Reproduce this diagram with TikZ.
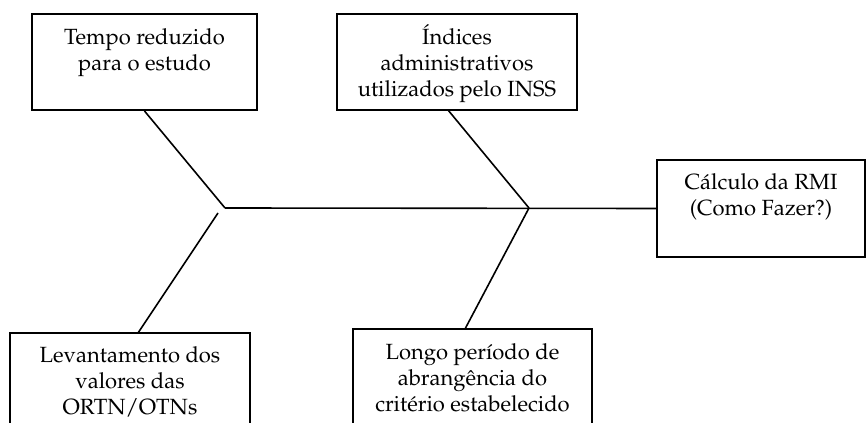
\documentclass[tikz,border=0pt]{standalone}
\usepackage[T1]{fontenc}
\usepackage{mathpazo}
\usetikzlibrary{fit}
\begin{document}
\begin{tikzpicture}[x=0.75pt,y=-0.75pt,
  box/.style={draw, line width=1.5pt, inner sep=0pt},
  txt/.style={align=center, inner sep=0pt, anchor=base, font=\fontsize{16.5}{19.5}\selectfont},
  bone/.style={line width=1.2pt}]
\useasboundingbox (0,0) rectangle (867,423);
\clip (0,0) rectangle (867,423);
% boxes
\node[box, fit={(32,14)(257,110)}] (b1) {};
\node[box, fit={(337,14)(577,110)}] (b2) {};
\node[box, fit={(657,160)(865,257)}] (b3) {};
\node[box, fit={(10,333)(250,450)}] (b4) {};
\node[box, fit={(353,329)(592,450)}] (b5) {};
% texts (anchored at the baseline of their last line)
\node[txt] (t1) at (144.5,71) {Tempo reduzido\\para o estudo};
\node[txt] (t2) at (457,97) {\'{I}ndices\\administrativos\\utilizados pelo INSS};
\node[txt] (t3) at (761,216) {C\'alculo da RMI\\(Como Fazer?)};
\node[txt] (t4) at (130,415) {Levantamento dos\\valores das\\ORTN/OTNs};
\node[txt] (t5) at (472.5,412) {Longo per\'{\i}odo de\\abrang\^encia do\\crit\'erio estabelecido};
% junctions
\coordinate (j1) at (225,208);
\coordinate (j1b) at (218,213);
\coordinate (j2) at (529,208);
\coordinate (s2) at (448,110);
\coordinate (s4) at (138,333);
\coordinate (s5) at (465,329);
% bones
\draw[bone] (j1) -- (b3.west);
\draw[bone] (b1.south) -- (j1);
\draw[bone] (s2) -- (j2);
\draw[bone] (s4) -- (j1b);
\draw[bone] (s5) -- (j2);
\end{tikzpicture}
\end{document}
